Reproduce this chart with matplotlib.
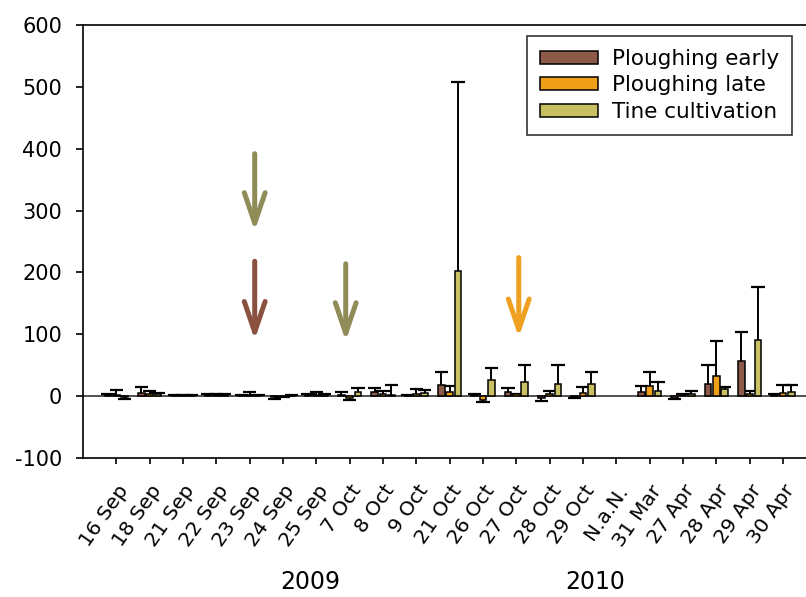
import numpy as np
import matplotlib.pyplot as plt

plt.rcParams['font.family'] = ['DejaVu Sans']
plt.rcParams['axes.unicode_minus'] = False

# sampling dates (N.a.N. = no sampling)
dates = ['16 Sep', '18 Sep', '21 Sep', '22 Sep', '23 Sep', '24 Sep', '25 Sep',
         '7 Oct', '8 Oct', '9 Oct', '21 Oct', '26 Oct', '27 Oct', '28 Oct',
         '29 Oct', 'N.a.N.', '31 Mar', '27 Apr', '28 Apr', '29 Apr', '30 Apr']

nan = np.nan
early = [1, 5, 1, 2, 1, -2, 2, 2, 6, 1.5, 18, 2, 7, -3, -1.5, nan, 7, -3, 20, 57, 1]
early_err = [3, 10, 0.5, 1, 1, 2, 1, 4, 7, 0.5, 21, 2, 6, 5, 1, nan, 8.5, 1, 30, 46, 3]

late = [2, 4, 1, 2, 2, -1, 2, -3, 3, 4, 6, -7, 3, 4, 5, nan, 15.5, 1, 33, 3, 5]
late_err = [8, 4, 0.5, 1, 4, 1, 4, 3, 6, 8, 11, 3, 1, 5, 10, nan, 23, 2, 56, 6, 13.5]

tine = [-2, 3, 1, 2, 1, 1, 2, 7, 1, 5, 202, 26, 23, 19, 20, nan, 8.5, 3.5, 11, 90, 7]
tine_err = [3, 2, 0.5, 1, 1, 1, 1, 6, 17, 5, 306, 20, 27, 31, 19, nan, 13.5, 4.5, 4, 86, 10.5]

series = ['Ploughing early', 'Ploughing late', 'Tine cultivation']
colors = ['#8B5A48', '#F0A018', '#C8C062']

# treatment arrows: (x position, start value, tip value, colour)
arrows = [(4.15, 392, 267, '#8F8C58'),
          (4.15, 218, 91, '#8A5040'),
          (6.88, 214, 89, '#8F8C58'),
          (12.07, 224, 95, '#F0A020')]

fig = plt.figure(figsize=(8.06, 5.97), dpi=100)
ax = fig.add_axes([0.103, 0.233, 0.910, 0.725])

x = np.arange(len(dates))
width = 0.2
cap = 0.4
offsets = [-0.25, 0, 0.25]

ax.axhline(0, color='#333333', lw=1.2, zorder=1)

for vals, errs, off, col, name in zip([early, late, tine],
                                      [early_err, late_err, tine_err],
                                      offsets, colors, series):
    vals = np.array(vals, dtype=float)
    errs = np.array(errs, dtype=float)
    xs = x + off
    ax.bar(xs, vals, width, color=col, edgecolor='black', lw=1.1,
           label=name, zorder=3)
    # one-sided error bars, pointing away from zero
    ends = np.where(vals < 0, vals - errs, vals + errs)
    ax.vlines(xs, vals, ends, color='black', lw=1.4, zorder=2)
    ax.hlines(ends, xs - cap / 2, xs + cap / 2, color='black', lw=1.6, zorder=2)

for xa, y0, y1, c in arrows:
    ax.annotate('', xy=(xa, y1), xytext=(xa, y0),
                arrowprops=dict(arrowstyle='->,head_length=2.2,head_width=0.75',
                                lw=3.6, color=c, shrinkA=0, shrinkB=0))

ax.set_xlim(-1, 21)
ax.set_ylim(-100, 600)
ax.set_yticks(range(-100, 601, 100))
ax.set_xticks(x)
ax.set_xticklabels(dates, rotation=55, ha='right', va='top',
                   rotation_mode='anchor')
ax.tick_params(axis='y', direction='out', length=5, width=1.2, labelsize=15, pad=10)
ax.tick_params(axis='x', direction='out', length=4, width=1.2, labelsize=14.5, pad=13)

for s in ax.spines.values():
    s.set_linewidth(1.2)

leg = ax.legend(loc='upper left', bbox_to_anchor=(0.6055, 0.9746),
                borderaxespad=0, fontsize=15.5, frameon=True, fancybox=False,
                handlelength=2.7, handleheight=0.55, handletextpad=0.65,
                labelspacing=0.3, borderpad=0.6)
leg.get_frame().set_edgecolor('black')
leg.get_frame().set_linewidth(1.2)

fig.text(0.385, 0.025, '2009', fontsize=17, ha='center', va='center')
fig.text(0.739, 0.025, '2010', fontsize=17, ha='center', va='center')

fig.savefig('out.png', dpi=100)
